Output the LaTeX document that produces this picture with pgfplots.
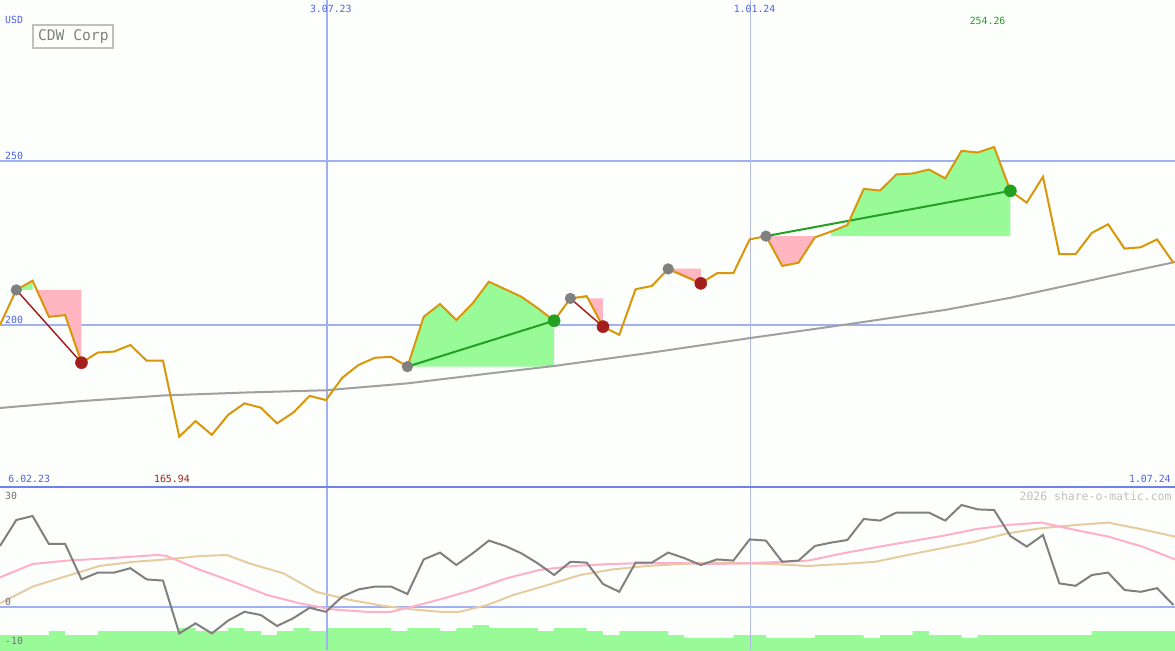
\documentclass[border=0pt]{standalone}
\usepackage{fontspec}
\setmainfont{DejaVu Sans Mono}
\usepackage{pgfplots}
\pgfplotsset{compat=1.18}

\definecolor{bgc}{RGB}{252,255,252}
\definecolor{gridblue}{RGB}{160,176,240}
\definecolor{gridgray}{RGB}{178,186,232}
\definecolor{sepblue}{RGB}{112,128,232}
\definecolor{labblue}{RGB}{80,96,240}
\definecolor{price}{RGB}{218,150,10}
\definecolor{magray}{RGB}{160,160,160}
\definecolor{winfill}{RGB}{152,251,152}
\definecolor{lossfill}{RGB}{255,182,193}
\definecolor{lossred}{RGB}{165,30,30}
\definecolor{wingreen}{RGB}{34,160,34}
\definecolor{dotgray}{RGB}{128,128,128}
\definecolor{oscgray}{RGB}{128,128,128}
\definecolor{oscpink}{RGB}{255,176,200}
\definecolor{osctan}{RGB}{230,204,160}
\definecolor{boxgray}{RGB}{192,192,192}

\newcommand{\lab}{\fontsize{7.4pt}{8pt}\selectfont}

\pgfplotstableread{
i p
0 200.0
1 210.7
2 213.5
3 202.5
4 203.0
5 188.5
6 191.6
7 191.9
8 193.9
9 189.1
10 189.1
11 165.94
12 170.7
13 166.5
14 172.6
15 176.1
16 174.8
17 170.0
18 173.3
19 178.4
20 177.1
21 183.9
22 187.8
23 190.0
24 190.3
25 187.3
26 202.5
27 206.4
28 201.5
29 206.6
30 213.2
31 210.9
32 208.6
33 205.1
34 201.3
35 208.1
36 208.8
37 199.5
38 197.0
39 210.9
40 211.9
41 217.1
42 214.9
43 212.7
44 215.8
45 215.8
46 226.1
47 227.1
48 218.0
49 219.0
50 226.7
51 228.5
52 230.5
53 241.5
54 241.0
55 245.9
56 246.2
57 247.4
58 244.7
59 253.1
60 252.6
61 254.26
62 240.9
63 237.3
64 245.2
65 221.6
66 221.6
67 228.1
68 230.7
69 223.3
70 223.7
71 226.1
72 219.0
}\pricetab

\pgfplotstableread{
i v
0 15.25
1 21.75
2 22.75
3 15.75
4 15.75
5 6.9
6 8.6
7 8.6
8 9.7
9 6.9
10 6.6
11 -6.6
12 -4.1
13 -6.6
14 -3.4
15 -1.2
16 -2.0
17 -4.75
18 -2.8
19 -0.2
20 -1.2
21 2.6
22 4.4
23 5.1
24 5.1
25 3.25
26 11.9
27 13.6
28 10.5
29 13.4
30 16.6
31 15.25
32 13.4
33 10.9
34 8.0
35 11.3
36 11.1
37 5.75
38 3.8
39 11.1
40 11.1
41 13.6
42 12.2
43 10.5
44 11.9
45 11.6
46 16.9
47 16.6
48 11.3
49 11.6
50 15.25
51 16.1
52 16.75
53 22.0
54 21.6
55 23.6
56 23.6
57 23.6
58 21.6
59 25.5
60 24.4
61 24.25
62 17.75
63 15.1
64 18.0
65 5.9
66 5.3
67 8.0
68 8.6
69 4.25
70 3.8
71 4.7
72 0.5
}\osctab

\begin{document}
\begin{tikzpicture}
\begin{axis}[
    name=main,
    scale only axis,
    width=881.25pt, height=365.25pt,
    xmin=0, xmax=72.1,
    ymin=150.6, ymax=299.1,
    axis line style={draw=none},
    ticks=none,
    axis background/.style={fill=bgc},
]
% grid
\draw[gridblue, line width=1.5pt] (axis cs:0,250) -- (axis cs:72.1,250);
\draw[gridblue, line width=1.5pt] (axis cs:0,200) -- (axis cs:72.1,200);
\draw[gridblue, line width=1.5pt] (axis cs:20.06,150.6) -- (axis cs:20.06,299.1);
\draw[gridgray, line width=0.8pt] (axis cs:46.07,150.6) -- (axis cs:46.07,299.1);

% trade areas
\addplot[fill=winfill, draw=none] coordinates {(1,210.7) (2,213.5) (2,210.7)} -- cycle;
\addplot[fill=lossfill, draw=none] coordinates {(2.25,210.7) (3,202.5) (4,203.0) (5,188.5) (5,210.7)} -- cycle;
\addplot[fill=winfill, draw=none] coordinates {(25,187.3) (26,202.5) (27,206.4) (28,201.5) (29,206.6) (30,213.2) (31,210.9) (32,208.6) (33,205.1) (34,201.3) (34,187.3)} -- cycle;
\addplot[fill=winfill, draw=none] coordinates {(35,208.1) (36,208.8) (36,208.1)} -- cycle;
\addplot[fill=lossfill, draw=none] coordinates {(36.08,208.1) (37,199.5) (37,208.1)} -- cycle;
\addplot[fill=lossfill, draw=none] coordinates {(41,217.2) (42,214.9) (43,212.7) (43,217.2)} -- cycle;
\addplot[fill=lossfill, draw=none] coordinates {(47,227.1) (48,218.0) (49,219.0) (50,226.7) (50,227.1)} -- cycle;
\addplot[fill=winfill, draw=none] coordinates {(51,227.1) (51,228.5) (52,230.5) (53,241.5) (54,241.0) (55,245.9) (56,246.2) (57,247.4) (58,244.7) (59,253.1) (60,252.6) (61,254.26) (62,240.9) (62,227.1)} -- cycle;

% long moving average
\addplot[magray, line width=1.5pt] coordinates {(0,174.7) (5,176.8) (10,178.5) (15,179.4) (20,180.1) (25,182.2) (30,185.2) (34,187.5) (40,191.6) (46,196.0) (52,200.2) (58,204.6) (62,208.3) (66,212.6) (69,215.9) (72.1,219.2)};

% entry / exit markers
\addplot[only marks, mark=*, mark size=4pt, dotgray] coordinates {(1,210.7) (25,187.3) (35,208.1) (41,217.1) (47,227.1)};
\addplot[only marks, mark=*, mark size=4.5pt, lossred] coordinates {(5,188.5) (37,199.5) (43,212.7)};
\addplot[only marks, mark=*, mark size=4.5pt, wingreen] coordinates {(34,201.3) (62,240.9)};

% trade lines
\addplot[lossred, line width=1.1pt] coordinates {(1,210.7) (5,188.5)};
\addplot[lossred, line width=1.1pt] coordinates {(35,208.1) (37,199.5)};
\addplot[lossred, line width=1.1pt] coordinates {(41,217.1) (43,212.7)};
\addplot[wingreen, line width=1.5pt] coordinates {(25,187.3) (34,201.3)};
\addplot[wingreen, line width=1.5pt] coordinates {(47,227.1) (62,240.9)};

% price
\addplot[price, line width=1.5pt] table[x=i, y=p] {\pricetab};

% labels
\node[anchor=west, text=labblue, font=\lab, inner sep=0pt] at (axis cs:0.3,293.0) {USD};
\node[anchor=south west, text=labblue, font=\lab, inner sep=0pt] at (axis cs:0.3,250.4) {250};
\node[anchor=south west, text=labblue, font=\lab, inner sep=0pt] at (axis cs:0.3,200.4) {200};
\node[text=labblue, font=\lab, inner sep=0pt] at (axis cs:20.3,296.4) {3.07.23};
\node[text=labblue, font=\lab, inner sep=0pt] at (axis cs:46.3,296.4) {1.01.24};
\node[text=wingreen, font=\lab, inner sep=0pt] at (axis cs:60.6,292.7) {254.26};
\node[text=lossred, font=\lab, inner sep=0pt] at (axis cs:10.55,153.1) {165.94};
\node[anchor=west, text=labblue, font=\lab, inner sep=0pt] at (axis cs:0.5,153.1) {6.02.23};
\node[anchor=east, text=labblue, font=\lab, inner sep=0pt] at (axis cs:71.85,153.1) {1.07.24};
\node[draw=boxgray, line width=1.5pt, text=dotgray, fill=bgc,
      minimum width=60pt, minimum height=17pt, inner sep=1pt,
      font=\fontsize{11pt}{12pt}\selectfont] at (axis cs:4.5,288.0) {CDW Corp};
\end{axis}

\begin{axis}[
    at={(main.south west)}, anchor=north west,
    scale only axis,
    width=881.25pt, height=122.25pt,
    xmin=0, xmax=72.1,
    ymin=-10.75, ymax=30,
    axis line style={draw=none},
    ticks=none,
    axis background/.style={fill=bgc},
]
% volume
\addplot[fill=winfill, draw=none, const plot mark left] coordinates {
(0,-11) (0,-7) (1,-7) (2,-7) (3,-6) (4,-7) (5,-7) (6,-6) (7,-6) (8,-6) (9,-6)
(10,-6) (11,-5.25) (12,-6) (13,-6) (14,-5.25) (15,-6) (16,-7) (17,-6) (18,-5.25) (19,-6)
(20,-5.25) (21,-5.25) (22,-5.25) (23,-5.25) (24,-6) (25,-5.25) (26,-5.25) (27,-6) (28,-5.25) (29,-4.5)
(30,-5.25) (31,-5.25) (32,-5.25) (33,-6) (34,-5.25) (35,-5.25) (36,-6) (37,-7) (38,-6) (39,-6)
(40,-6) (41,-7) (42,-7.7) (43,-7.7) (44,-7.7) (45,-7) (46,-7) (47,-7.7) (48,-7.7) (49,-7.7)
(50,-7) (51,-7) (52,-7) (53,-7.7) (54,-7) (55,-7) (56,-6) (57,-7) (58,-7) (59,-7.7)
(60,-7) (61,-7) (62,-7) (63,-7) (64,-7) (65,-7) (66,-7) (67,-6) (68,-6) (69,-6)
(70,-6) (71,-6) (72,-6) (73,-6) (73,-11)} -- cycle;

% grid
\draw[gridblue, line width=1.5pt] (axis cs:0,0) -- (axis cs:72.1,0);
\draw[gridblue, line width=1.5pt] (axis cs:20.06,-10.75) -- (axis cs:20.06,30);
\draw[gridgray, line width=0.8pt] (axis cs:46.07,-10.75) -- (axis cs:46.07,30);
\draw[sepblue, line width=1.8pt] (axis cs:0,30) -- (axis cs:72.1,30);

% slow and fast averages
\addplot[osctan, line width=1.5pt] coordinates {(0,0.9) (2,5.1) (4.1,7.75) (6.1,10.25) (8.2,11.3) (10.2,11.9) (12.3,12.75) (13.9,13.0) (15.3,10.9) (17.4,8.4) (19.4,3.8) (21.5,1.75) (23.5,0.3) (25.3,-0.6) (27,-1.2) (28.2,-1.2) (29.9,0.5) (31.5,3.0) (33.6,5.5) (35.6,8.0) (37.6,9.4) (39.7,10.25) (41.7,10.75) (43.7,11.1) (47.5,10.75) (49.6,10.25) (51.7,10.75) (53.7,11.3) (55.7,13.0) (57.8,14.7) (59.8,16.3) (61.8,18.4) (63.9,19.7) (66,20.5) (68,21.1) (70.1,19.4) (72.1,17.6)};
\addplot[oscpink, line width=1.5pt] coordinates {(0,7.4) (2,10.75) (4.1,11.6) (6.75,12.2) (9.6,13.0) (10.2,12.8) (12.3,9.25) (14.3,6.3) (16.4,3.0) (18.4,0.9) (20.4,-0.6) (22.5,-1.2) (24,-1.2) (25.3,0.1) (27,1.9) (29,4.25) (31.1,7.2) (33.1,9.25) (35.2,10.25) (37.2,10.7) (38.8,10.9) (41.3,11.0) (43.7,10.75) (45.8,10.9) (47.9,11.3) (49.6,11.6) (51.7,13.4) (53.7,14.9) (55.7,16.3) (57.8,17.75) (59.8,19.4) (61.8,20.5) (63.9,21.1) (66,19.25) (68,17.6) (70.1,15.1) (72.1,11.9)};
% oscillator
\addplot[oscgray, line width=1.5pt] table[x=i, y=v] {\osctab};

\node[anchor=west, text=dotgray!90!black, font=\lab, inner sep=0pt] at (axis cs:0.3,27.75) {30};
\node[anchor=west, text=dotgray!90!black, font=\lab, inner sep=0pt] at (axis cs:0.3,1.25) {0};
\node[anchor=west, text=dotgray!90!black, font=\lab, inner sep=0pt] at (axis cs:0.3,-8.5) {-10};
\node[anchor=east, text=boxgray, font=\fontsize{8.6pt}{9pt}\selectfont, inner sep=0pt] at (axis cs:71.9,27.75) {2026 share-o-matic.com};
\end{axis}
\end{tikzpicture}
\end{document}
